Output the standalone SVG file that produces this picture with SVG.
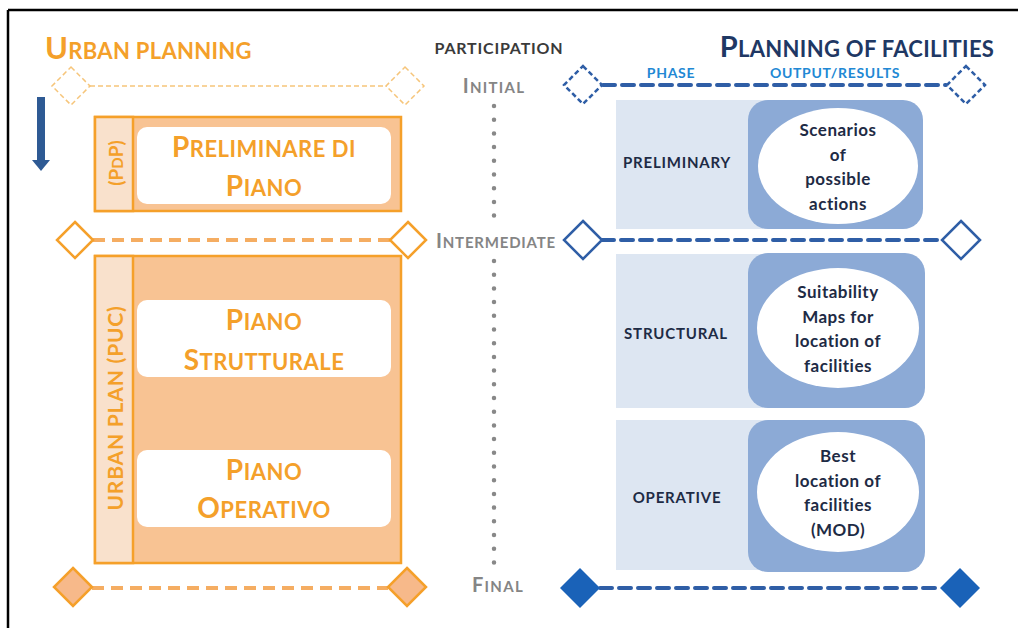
<svg xmlns="http://www.w3.org/2000/svg" width="1018" height="628" viewBox="0 0 1018 628">
  <style>
    text { font-family: Lato, "Open Sans", "Liberation Sans", sans-serif; font-weight: bold; }
    .or { fill: #f4a02a; }
    .big { font-size: 28px; }
    .sm { font-size: 22px; }
    .gray { fill: #858585; }
    .navy { fill: #1e2b45; font-size: 17px; letter-spacing: 0.5px; }
    .phase { fill: #1e2b45; font-size: 15px; letter-spacing: 0.8px; }
    .blueh { fill: #2288d4; font-size: 14px; letter-spacing: 0.7px; }
    .obox { fill: #f8c393; stroke: #f5a02a; stroke-width: 2.5; }
    .ocol { fill: #f9e1cc; stroke: #f5a02a; stroke-width: 2.5; }
    .wbox { fill: #ffffff; }
    .lbox { fill: #dde6f2; }
    .dbox { fill: #8caad6; }
    .odash { stroke: #f5ad62; stroke-width: 4; stroke-dasharray: 12 7; fill: none; }
    .bdash { stroke: #2f5ea6; stroke-width: 4; stroke-dasharray: 12 7; stroke-linecap: round; fill: none; }
    .othin { stroke: #f6c57a; stroke-width: 1.5; stroke-dasharray: 5 3; fill: none; }
    .dots { stroke: #888888; stroke-width: 4.5; stroke-linecap: round; stroke-dasharray: 0 13.7; fill: none; }
  </style>

  <rect x="0" y="0" width="1018" height="628" fill="#ffffff"/>
  <g id="frame" stroke="#000000" stroke-width="2.5" fill="none">
    <line x1="8" y1="10" x2="1018" y2="10"/>
    <line x1="8" y1="10" x2="8" y2="628"/>
  </g>

  <!-- Titles -->
  <g id="title-urban">
    <text class="or" x="45" y="59" letter-spacing="0.3"><tspan font-size="31">U</tspan><tspan font-size="22">RBAN PLANNING</tspan></text>
  </g>
  <g id="title-participation">
    <text x="499" y="54" text-anchor="middle" fill="#3a3a3a" font-size="16" letter-spacing="0.8">PARTICIPATION</text>
  </g>
  <g id="title-facilities">
    <text x="857" y="57" text-anchor="middle" fill="#1f3864" letter-spacing="0.3"><tspan font-size="29">P</tspan><tspan font-size="22">LANNING OF FACILITIES</tspan></text>
  </g>
  <g id="col-headers">
    <text class="blueh" x="671" y="78" text-anchor="middle">PHASE</text>
    <text class="blueh" x="835" y="78" text-anchor="middle">OUTPUT/RESULTS</text>
  </g>

  <!-- Connectors / milestone lines -->
  <g id="connectors">
    <!-- orange top (thin dashed) -->
    <line class="othin" x1="90" y1="86" x2="387" y2="86"/>
    <polygon class="othin" points="71,67 90,86 71,105 52,86"/>
    <polygon class="othin" points="405,67 424,86 405,105 386,86"/>
    <!-- orange intermediate -->
    <line class="odash" x1="93" y1="240" x2="390" y2="240"/>
    <polygon points="75,222 93,240 75,258 57,240" fill="#ffffff" stroke="#f5a02a" stroke-width="2.5"/>
    <polygon points="408,222 426,240 408,258 390,240" fill="#ffffff" stroke="#f5a02a" stroke-width="2.5"/>
    <!-- orange final -->
    <line class="odash" x1="92" y1="588" x2="388" y2="588"/>
    <polygon points="73,568 92,587 73,606 54,587" fill="#f7b98a" stroke="#f5a02a" stroke-width="2.5"/>
    <polygon points="407,568 426,587 407,606 388,587" fill="#f7b98a" stroke="#f5a02a" stroke-width="2.5"/>

    <!-- participation dots -->
    <line class="dots" x1="494" y1="106" x2="494" y2="216"/>
    <line class="dots" x1="494" y1="261" x2="494" y2="564"/>

    <!-- blue top -->
    <line class="bdash" x1="603" y1="85" x2="946" y2="85"/>
    <polygon points="583,66 602,85 583,104 564,85" fill="#ffffff" stroke="#2f5ea6" stroke-width="2.5" stroke-dasharray="5 3"/>
    <polygon points="966,66 985,85 966,104 947,85" fill="#ffffff" stroke="#2f5ea6" stroke-width="2.5" stroke-dasharray="5 3"/>
    <!-- blue intermediate -->
    <line class="bdash" x1="602" y1="240" x2="942" y2="240"/>
    <polygon points="583,221 602,240 583,259 564,240" fill="#ffffff" stroke="#2f5ea6" stroke-width="2.5"/>
    <polygon points="961,221 980,240 961,259 942,240" fill="#ffffff" stroke="#2f5ea6" stroke-width="2.5"/>
    <!-- blue final -->
    <line class="bdash" x1="600" y1="588" x2="940" y2="588"/>
    <polygon points="580,568 600,588 580,608 560,588" fill="#1a62b8"/>
    <polygon points="960,568 980,588 960,608 940,588" fill="#1a62b8"/>

    <!-- time arrow -->
    <rect x="37" y="97" width="8" height="64" fill="#2e5a94"/>
    <polygon points="32,160 50,160 41,171" fill="#2e5a94"/>
  </g>

  <!-- Milestone labels -->
  <g id="label-initial">
    <text class="gray" x="494" y="93" text-anchor="middle" letter-spacing="1.3"><tspan font-size="20">I</tspan><tspan font-size="15">NITIAL</tspan></text>
  </g>
  <g id="label-intermediate">
    <text class="gray" x="496" y="248" text-anchor="middle" letter-spacing="0.8"><tspan font-size="20">I</tspan><tspan font-size="15">NTERMEDIATE</tspan></text>
  </g>
  <g id="label-final">
    <text class="gray" x="498" y="592" text-anchor="middle" letter-spacing="1.3"><tspan font-size="20">F</tspan><tspan font-size="15">INAL</tspan></text>
  </g>

  <!-- PdP box -->
  <g id="node-pdp">
    <rect class="obox" x="95" y="117" width="306" height="94"/>
    <rect class="ocol" x="95" y="117" width="38" height="94"/>
    <rect class="wbox" x="137" y="127" width="254" height="77" rx="10"/>
    <text class="or" transform="translate(123,163) rotate(-90)" text-anchor="middle"><tspan font-size="19">(P</tspan><tspan font-size="15">D</tspan><tspan font-size="19">P)</tspan></text>
    <text class="or" x="264" y="157" text-anchor="middle" letter-spacing="0.5"><tspan class="big">P</tspan><tspan class="sm">RELIMINARE DI</tspan></text>
    <text class="or" x="264" y="196" text-anchor="middle" letter-spacing="0.5"><tspan class="big">P</tspan><tspan class="sm">IANO</tspan></text>
  </g>

  <!-- PUC box -->
  <g id="node-puc">
    <rect class="obox" x="95" y="256" width="306" height="307"/>
    <rect class="ocol" x="95" y="256" width="38" height="307"/>
    <text class="or" transform="translate(123,408) rotate(-90)" text-anchor="middle" font-size="21" letter-spacing="0.8">URBAN PLAN (PUC)</text>
  </g>
  <g id="node-strutturale">
    <rect class="wbox" x="137" y="300" width="254" height="77" rx="10"/>
    <text class="or" x="264" y="330" text-anchor="middle" letter-spacing="0.5"><tspan class="big">P</tspan><tspan class="sm">IANO</tspan></text>
    <text class="or" x="264" y="370" text-anchor="middle" letter-spacing="0.5"><tspan class="big">S</tspan><tspan class="sm">TRUTTURALE</tspan></text>
  </g>
  <g id="node-operativo">
    <rect class="wbox" x="137" y="450" width="254" height="77" rx="10"/>
    <text class="or" x="264" y="480" text-anchor="middle" letter-spacing="0.5"><tspan class="big">P</tspan><tspan class="sm">IANO</tspan></text>
    <text class="or" x="264" y="518" text-anchor="middle" letter-spacing="0.5"><tspan class="big">O</tspan><tspan class="sm">PERATIVO</tspan></text>
  </g>

  <!-- Right: phases -->
  <g id="node-preliminary">
    <rect class="lbox" x="616" y="100" width="180" height="129"/>
    <rect class="dbox" x="748" y="100" width="175" height="129" rx="20"/>
    <ellipse cx="838" cy="166" rx="80" ry="58" fill="#ffffff"/>
    <text class="phase" x="677" y="168" text-anchor="middle">PRELIMINARY</text>
    <text class="navy" text-anchor="middle"><tspan x="838" y="136">Scenarios</tspan><tspan x="838" y="161">of</tspan><tspan x="838" y="185">possible</tspan><tspan x="838" y="210">actions</tspan></text>
  </g>
  <g id="node-structural">
    <rect class="lbox" x="616" y="254" width="180" height="154"/>
    <rect class="dbox" x="748" y="253" width="177" height="155" rx="20"/>
    <ellipse cx="838" cy="328" rx="81" ry="60" fill="#ffffff"/>
    <text class="phase" x="676" y="339" text-anchor="middle">STRUCTURAL</text>
    <text class="navy" text-anchor="middle"><tspan x="838" y="298">Suitability</tspan><tspan x="838" y="323">Maps for</tspan><tspan x="838" y="347">location of</tspan><tspan x="838" y="372">facilities</tspan></text>
  </g>
  <g id="node-operative">
    <rect class="lbox" x="616" y="420" width="180" height="150"/>
    <rect class="dbox" x="748" y="420" width="177" height="152" rx="20"/>
    <ellipse cx="838" cy="492" rx="81" ry="60" fill="#ffffff"/>
    <text class="phase" x="677" y="503" text-anchor="middle">OPERATIVE</text>
    <text class="navy" text-anchor="middle"><tspan x="838" y="462">Best</tspan><tspan x="838" y="487">location of</tspan><tspan x="838" y="511">facilities</tspan><tspan x="838" y="536">(MOD)</tspan></text>
  </g>
</svg>
